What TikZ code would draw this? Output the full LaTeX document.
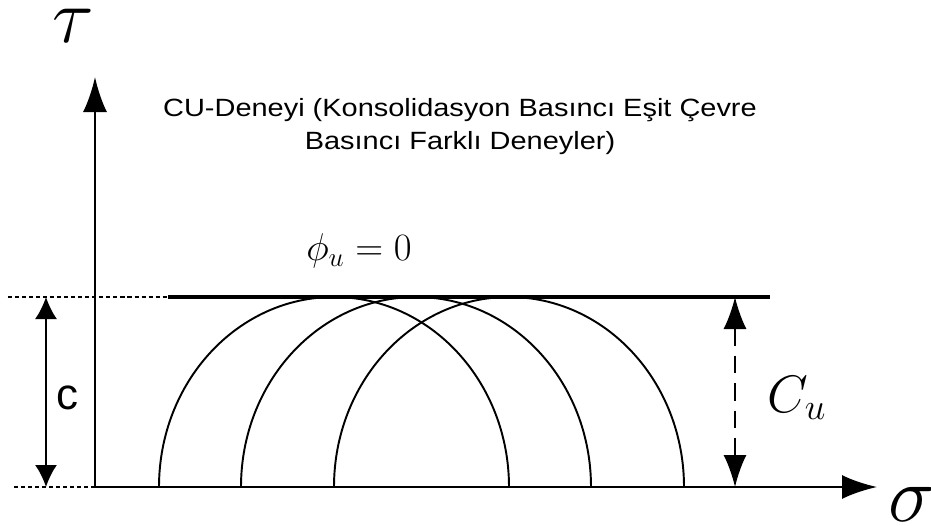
\RequirePackage{fix-cm}
\documentclass[tikz,border=0pt]{standalone}
\usepackage{fontspec}
\setsansfont{Liberation Sans}
\newfontfamily\titlefont{Liberation Sans}[FakeStretch=1.16]
\usetikzlibrary{arrows.meta, positioning, calc}

\begin{document}
\begin{tikzpicture}[font=\sffamily,
    axisline/.style={line width=1.5pt, -{Latex[length=0.7cm, width=0.48cm]}},
    mohr/.style={line width=1.1pt},
    guide/.style={line width=1.1pt, dash pattern=on 2.3pt off 1.7pt},
    ctip/.tip={Latex[length=0.44cm, width=0.44cm]},
    cutip/.tip={Latex[length=0.64cm, width=0.46cm]}]
    \useasboundingbox (-1.9,-0.76) rectangle (16.72,9.74);

    % Axes
    \coordinate (O) at (0,0);
    \coordinate (ytip) at (0,8.2);
    \coordinate (xtip) at (15.64,0);
    \draw[axisline] (O) -- (ytip);
    \draw[axisline] (O) -- (xtip);
    \node[anchor=base, inner sep=0pt] (tau) at (-0.44,8.88) {\fontsize{44}{44}\selectfont $\tau$};
    \node[anchor=base west, inner sep=0pt] (sigma) at (15.86,-0.69) {\fontsize{45}{45}\selectfont $\sigma$};

    \node[align=center, font=\titlefont\fontsize{14.2}{18.8}\selectfont] (title) at (7.3,7.2)
        {CU-Deneyi (Konsolidasyon Basıncı Eşit Çevre\\Basıncı Farklı Deneyler)};

    % Mohr circles
    \draw[mohr] (1.28,0) arc[start angle=180, end angle=0, x radius=3.5, y radius=3.8];
    \draw[mohr] (2.92,0) arc[start angle=180, end angle=0, x radius=3.5, y radius=3.8];
    \draw[mohr] (4.78,0) arc[start angle=180, end angle=0, x radius=3.5, y radius=3.8];

    % Failure envelope
    \coordinate (envl) at (1.46,3.8);
    \coordinate (envr) at (13.5,3.8);
    \draw[line width=2.3pt] (envl) -- (envr);
    \node (phi) at (5.28,4.72) {\fontsize{22}{22}\selectfont $\phi_u = 0$};

    % Guide lines
    \coordinate (gtop) at (-1.74,3.8);
    \coordinate (gbot) at (-1.62,0);
    \draw[guide] (gtop) -- (envl);
    \draw[guide] (gbot) -- (O);

    % Cohesion c
    \coordinate (ctop) at (-0.98,3.8);
    \coordinate (cbot) at (-0.98,0);
    \draw[line width=1.1pt, ctip-ctip] (ctop) -- (cbot);
    \node (clabel) at (-0.56,1.78) {\fontsize{25}{25}\selectfont c};

    % Undrained strength Cu
    \coordinate (cutop) at (12.8,3.8);
    \coordinate (cubot) at (12.8,0);
    \draw[line width=1.1pt, dash pattern=on 10pt off 5.7pt, cutip-cutip] (cutop) -- (cubot);
    \node (culabel) at (14.04,1.78) {\fontsize{30}{30}\selectfont $C_u$};
\end{tikzpicture}
\end{document}
